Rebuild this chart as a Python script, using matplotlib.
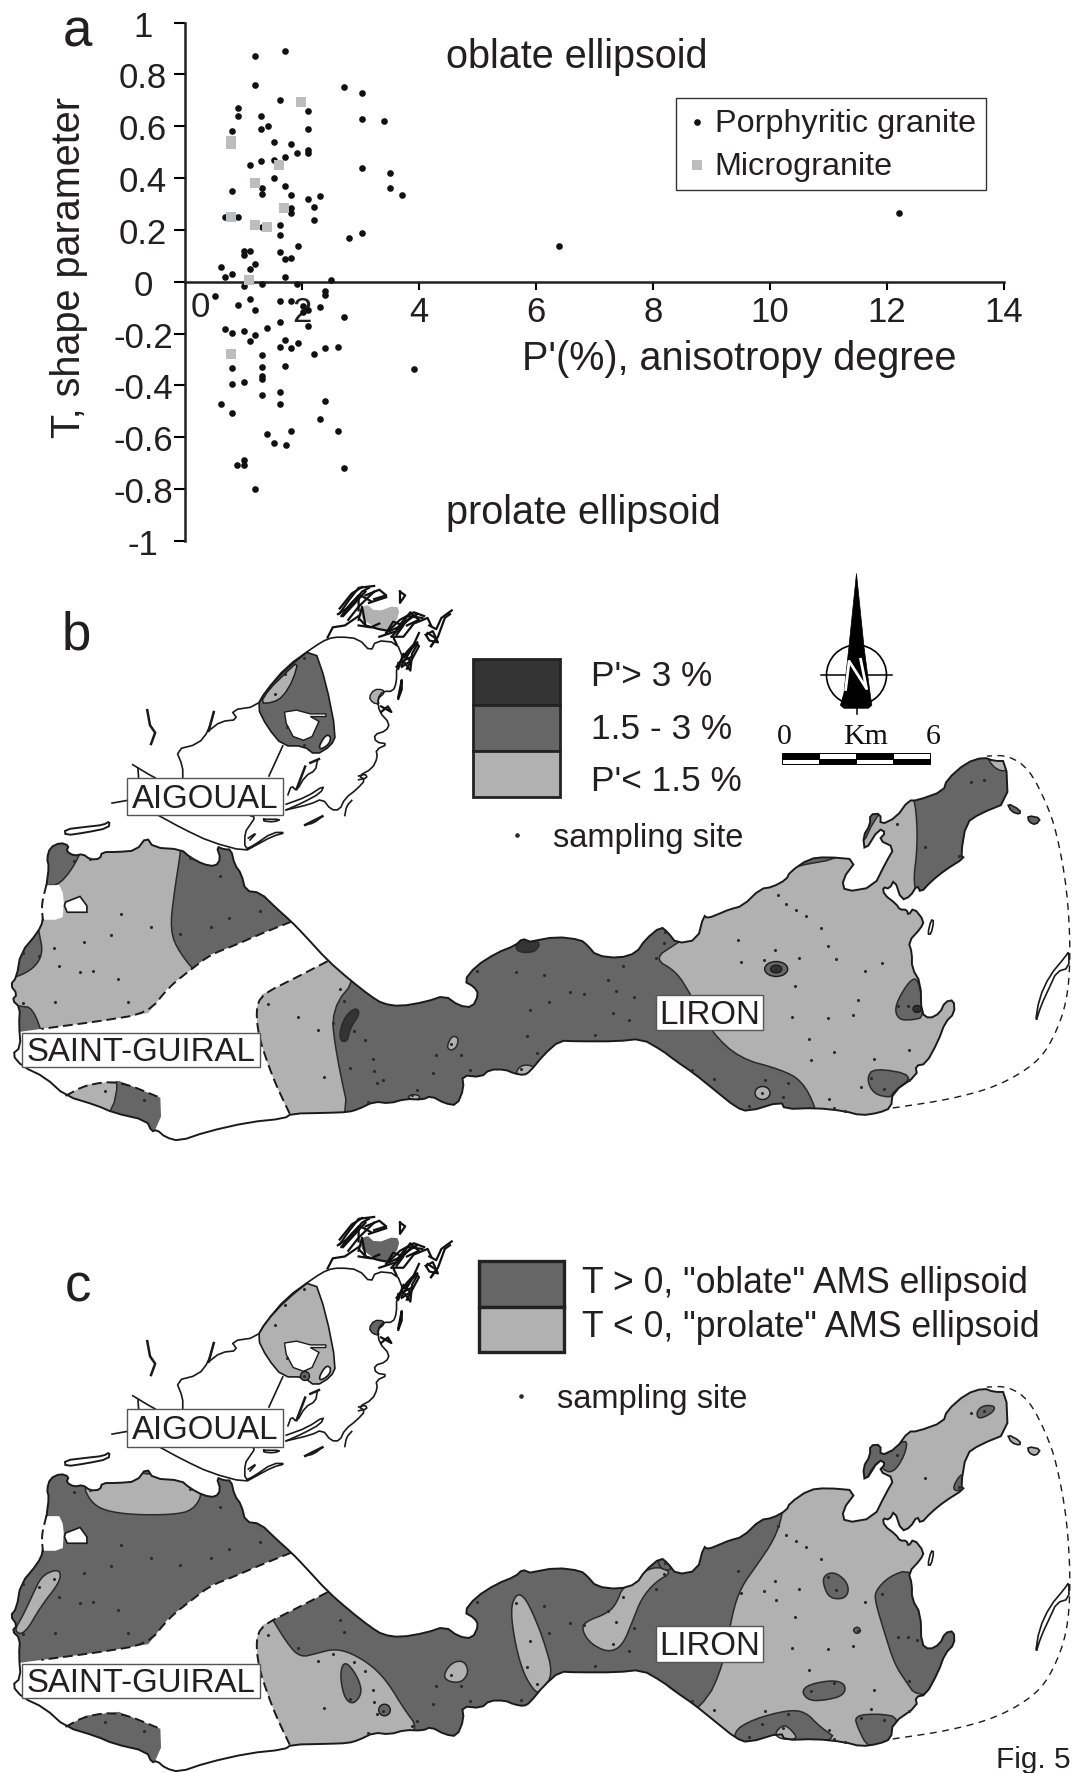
import matplotlib
matplotlib.use('Agg')
import matplotlib.pyplot as plt
from matplotlib.patches import Polygon, Rectangle, Ellipse, Circle
import numpy as np

plt.rcParams['font.family'] = ['Liberation Sans', 'DejaVu Sans']
INK = '#231f20'
DARK = '#343434'
MID = '#666666'
LIGHT = '#b1b1b1'

# panel a data
P_GRANITE = [1.20, 1.71, 1.20, 1.62, 2.71, 3.02, 0.90, 0.90, 2.11, 1.30, 1.42, 1.30, 2.11, 3.02, 3.40, 0.80,
             1.52, 1.82, 2.11, 2.11, 1.92, 1.71, 1.52, 1.30, 1.11, 3.02, 3.50, 1.52, 1.71, 1.32, 1.32, 0.80,
             1.82, 2.11, 2.30, 3.50, 3.71, 1.82, 1.82, 2.21, 0.69, 0.91, 2.21, 1.62, 1.32, 1.62, 3.02, 2.81,
             1.93, 1.01, 1.11, 1.01, 1.62, 1.82, 1.71, 1.20, 0.62, 1.11, 0.80, 0.69, 1.71, 2.50, 1.01, 1.32,
             1.92, 0.52, 2.40, 2.40, 1.11, 1.62, 1.82, 2.01, 0.90, 2.30, 1.20, 2.11, 2.01, 2.71, 1.62, 2.11,
             0.69, 0.80, 1.01, 1.41, 1.20, 1.71, 1.11, 1.93, 1.62, 1.82, 2.40, 2.61, 2.21, 1.31, 0.80, 1.31,
             1.71, 3.91, 1.31, 1.31, 1.01, 0.80, 1.62, 1.32, 0.62, 1.62, 2.40, 0.80, 2.30, 2.61, 1.82, 1.41,
             1.52, 1.72, 1.01, 0.89, 1.01, 2.71, 1.20, 6.40, 12.20]
T_GRANITE = [0.87, 0.89, 0.76, 0.70, 0.75, 0.73, 0.67, 0.64, 0.66, 0.64, 0.60, 0.59, 0.59, 0.63, 0.62, 0.58,
             0.54, 0.53, 0.51, 0.495, 0.495, 0.48, 0.47, 0.465, 0.45, 0.44, 0.42, 0.40, 0.37, 0.36, 0.34, 0.35,
             0.335, 0.32, 0.33, 0.36, 0.335, 0.285, 0.265, 0.29, 0.25, 0.25, 0.24, 0.22, 0.21, 0.18, 0.19, 0.17,
             0.14, 0.12, 0.117, 0.105, 0.114, 0.092, 0.087, 0.07, 0.058, 0.048, 0.029, 0.018, 0.018, 0.007, -0.018, -0.008,
             -0.01, -0.056, -0.037, -0.051, -0.067, -0.074, -0.074, -0.092, -0.091, -0.096, -0.107, -0.11, -0.117, -0.136, -0.155, -0.172,
             -0.183, -0.197, -0.19, -0.177, -0.205, -0.223, -0.23, -0.237, -0.252, -0.257, -0.257, -0.252, -0.279, -0.281, -0.331, -0.327,
             -0.326, -0.337, -0.363, -0.376, -0.385, -0.396, -0.425, -0.435, -0.47, -0.47, -0.458, -0.505, -0.528, -0.574, -0.575, -0.586,
             -0.62, -0.63, -0.686, -0.707, -0.707, -0.718, -0.798, 0.14, 0.265]
P_MICRO = [0.79, 0.79, 1.99, 1.60, 1.20, 1.70, 0.79, 1.20, 1.40, 1.09, 0.79]
T_MICRO = [0.543, 0.53, 0.695, 0.451, 0.382, 0.285, 0.249, 0.221, 0.21, 0.007, -0.278]
X_TICKS = [2, 4, 6, 8, 10, 12, 14]
Y_TICKS = [-1, -0.8, -0.6, -0.4, -0.2, 0, 0.2, 0.4, 0.6, 0.8, 1]
Y_LABELS = ['-1', '-0.8', '-0.6', '-0.4', '-0.2', '0', '0.2', '0.4', '0.6', '0.8', '1']

COAST_N_W = [(135,838),(142,790),(136,770),(145,740),(175,727),(200,735),(192,750),(215,762),(240,757),(262,772),
             (290,770),(296,752),(340,752),(395,748),(425,712),(445,740),(525,745),(550,765),(590,785),(625,790),
             (640,770),(628,737),(650,745),(670,745),(680,785),(700,810),(712,855),(755,860),(800,900),(845,937),
             (880,970),(950,1040),(1015,1092),(1075,1135),(1110,1155),(1160,1162),(1235,1150),(1290,1133),(1330,1160),
             (1370,1165),(1388,1130),(1375,1110),(1345,1095),(1380,1055),(1440,1020),(1495,1000),(1515,982),(1537,990)]
COAST_E = [(0,990),(75,977),(145,985),(165,1000),(190,1027),(255,1034),(305,1020),(330,985),(375,950),(395,965),
           (420,995),(480,985),(498,920),(510,928),(545,915),(570,905),(610,895),(660,850),(695,845),(735,825),
           (745,805),(800,770),(850,765),(938,772),(895,825),(903,858),(985,845),(1020,780),(1045,740),(1000,720),
           (1020,700),(1000,690),(960,750),(955,710),(975,680),(975,652),(1005,650),(1005,680),(1050,660),(1085,615),
           (1110,615),(1185,590),(1195,560),(1250,515),(1300,500),(1330,510),(1365,510),(1370,620),(1290,650),(1250,675),
           (1235,760),(1245,768),(1190,800),(1150,830),(1120,860),(1110,840),(1090,870),(1065,880),(1045,825),(1030,850),
           (1012,845),(1015,865),(1050,890),(1060,905),(1080,905),(1085,920),(1100,900),(1130,935),(1120,955),(1085,990),
           (1095,1020),(1095,1060),(1120,1100),(1122,1180),(1145,1195),(1175,1180),(1190,1150),(1215,1145),(1217,1180),
           (1190,1205),(1170,1255),(1135,1315),(1105,1320),(1110,1345),(1040,1390),(1035,1432),(1000,1445),(950,1452),
           (900,1440),(820,1432),(730,1435),(720,1415),(625,1442),(590,1430),(530,1385),(470,1340),(415,1305),(380,1280),
           (320,1248),(250,1255),(130,1255),(85,1253),(40,1290),(0,1335)]
COAST_S_W = [(1520,1345),(1490,1340),(1465,1330),(1420,1330),(1395,1350),(1340,1345),(1345,1380),(1325,1425),(1290,1420),
             (1250,1400),(1225,1410),(1175,1408),(1130,1420),(1085,1415),(1040,1435),(1010,1443),(950,1445),(845,1447),
             (825,1460),(720,1470),(600,1495),(520,1520),(480,1510),(455,1490),(440,1495),(425,1465),(330,1445),(280,1425),
             (190,1400),(130,1350),(65,1322),(35,1290),(60,1270),(55,1210),(58,1165),(35,1145),(50,1130),(30,1105),
             (48,1085),(60,1020),(110,965),(125,935)]
WHITE_STRIP = [(845,937),(760,968),(680,1000),(610,1025),(560,1060),(490,1110),(430,1180),(300,1200),(120,1222),(55,1230),
               (0,1260),(0,1400),(190,1400),(250,1370),(345,1360),(465,1405),(467,1455),(450,1490),(480,1530),(720,1500),
               (845,1460),(800,1370),(775,1310),(750,1240),(742,1170),(760,1130),(860,1085),(950,1042),(880,970)]
DASH_LINES = [[(845,937),(760,968),(680,1000),(610,1025),(560,1060),(490,1110),(430,1180),(300,1200),(120,1222)],
              [(950,1042),(860,1085),(760,1130),(742,1170),(750,1240),(775,1310),(800,1370),(840,1447)],
              [(190,1400),(250,1370),(345,1360),(465,1405)],
              [(135,838),(122,885),(122,912),(125,935)]]
HOLE_A = [(135,840),(172,840),(182,860),(185,885),(182,925),(160,932),(125,932),(122,885)]
HOLE_B = [(190,885),(232,870),(252,895),(252,912),(195,912),(187,895)]
FAR_DASH = [(1040,1432),(1200,1410),(1340,1375),(1450,1315),(1500,1250),(1540,1150),(1550,1020),(1540,850),(1510,700),
            (1480,620),(1430,530),(1370,495),(1310,497)]
SLIVER = [(1448,1210),(1460,1140),(1490,1080),(1535,1030),(1545,1015),(1545,1060),(1510,1070),(1490,1110),(1465,1160)]
ISLET_A = [(1368,622),(1405,640),(1405,652),(1380,645)]
ISLET_B = [(1427,655),(1465,662),(1450,680),(1430,672)]
ISLET_C = [(1140,970),(1150,932),(1158,935),(1150,970)]

# northern massif lines
AIG_LINES = [[(325,622),(368,615)], [(385,520),(430,545),(450,555)], [(400,530),(402,555)],
             [(530,555),(530,525),(510,480),(575,465),(605,430),(620,380)],
             [(605,430),(640,405),(690,400),(670,375),(745,365),(770,325),(830,260),(910,207),(950,185),(985,180),
              (1040,185),(1075,220),(1090,190),(1150,195),(1170,240),(1150,260),(1150,300),(1140,325),(1110,325),
              (1095,345),(1100,380),(1130,410),(1120,430),(1085,440),(1090,460),(1125,465),(1090,480),(1095,500),
              (1080,530),(1040,550),(1060,560),(1035,585),(1000,610),(985,640),(960,640),(935,610),(900,625),(830,640)],
             [(460,655),(530,690),(610,725),(710,750),(740,735),(790,710),(830,700),(790,700),(735,735),(710,745),
              (710,700),(725,680),(740,660),(725,655)],
             [(820,470),(780,550)], [(920,510),(915,535),(885,550),(860,590),(845,575),(835,600)],
             [(885,680),(910,675),(935,657)], [(1000,655),(1005,630),(1020,615)],
             [(830,625),(890,605),(940,575),(930,595),(880,620),(830,640)],
             [(765,665),(815,665),(795,672),(765,670),(765,665)],
             [(720,715),(745,700),(725,720)],
             [(1040,550),(1060,545),(1065,555),(1040,560)]]
AIG_THICK = [[(427,375),(435,415),(450,435),(438,465)], [(605,430),(620,380)], [(860,585),(885,525)], [(885,680),(935,657)],
             [(900,515),(925,505)]]
AIG_ISLE = [(188,692),(250,685),(300,680),(318,670),(315,688),(250,700),(190,708)]
SCRIBBLES = [[(985,118),(1010,85),(1040,50),(1085,45)], [(980,120),(1015,100),(1050,60),(1070,50)], [(995,125),(1030,90),(1060,60)],
             [(1000,110),(1040,70),(1040,110)], [(985,105),(1020,65),(1050,48)], [(1045,135),(1060,150),(1100,160),(1130,165)],
             [(1040,150),(1075,155),(1100,145)], [(1060,70),(1100,55),(1120,70),(1085,80)], [(1070,90),(1120,75)],
             [(1160,60),(1175,70),(1160,90),(1160,60)], [(1120,170),(1160,135),(1200,115),(1230,125)],
             [(1135,180),(1175,140),(1210,120)], [(1100,180),(1150,165),(1190,130)], [(1150,160),(1180,125),(1225,130)],
             [(1150,200),(1140,180),(1170,180),(1200,145),(1240,130),(1250,150)], [(950,182),(965,155),(1000,150),(1040,125)],
             [(1245,150),(1265,160),(1280,130),(1310,110)], [(1250,205),(1270,180),(1290,130),(1305,120)],
             [(1235,175),(1255,165),(1270,195),(1245,190),(1235,175)], [(1150,260),(1180,220),(1200,200),(1215,170)],
             [(1165,255),(1195,210),(1210,195)], [(1175,250),(1190,270),(1195,225),(1210,200)], [(1155,250),(1190,235)],
             [(1155,340),(1165,295),(1165,320),(1155,345)], [(1105,365),(1135,380),(1125,365),(1105,380)],
             [(990,125),(1020,90),(1045,70),(1075,85)], [(1010,135),(1040,100),(1085,60)], [(1040,135),(1050,100),(1060,150)],
             [(1120,170),(1140,140),(1170,150),(1150,175)], [(1160,150),(1190,115),(1215,135),(1180,150)],
             [(1130,165),(1165,150),(1195,125)], [(1240,170),(1265,185),(1250,205)],
             [(1175,235),(1205,195),(1215,205),(1180,265)], [(1155,265),(1170,225),(1190,245),(1165,260)]]
AIG_ZONE = [(745,365),(770,325),(830,265),(910,207),(945,300),(975,440),(960,470),(915,495),(880,470),(820,470),(775,420)]
AIG_HOLE = [(825,380),(860,375),(900,385),(945,385),(945,392),(900,392),(925,405),(905,445),(880,455),(850,445),(830,410)]
AIG_LENS = [(925,470),(945,440),(960,445),(955,465),(930,480)]
AIG_LIGHT_B = [(755,357),(780,320),(830,275),(865,245),(850,295),(820,340),(790,355)]
TOP_BLOB = [(1040,125),(1060,90),(1090,115),(1150,95),(1160,120),(1130,165),(1085,155)]
SIDE_BLOB = [(1070,340),(1085,320),(1110,320),(1115,330),(1095,345),(1100,360),(1080,355)]

# zones of panel b, run on past the coast and the barren strip where they are cut off
B_LIGHT_W = [[(130,840),(175,840),(235,760),(240,700),(525,700),(525,745),(505,860),(493,960),(520,1020),(590,1095),(520,1150),
              (450,1230),(130,1255),(95,1165),(58,1162),(0,1150),(0,1090),(48,1085),(100,1060),(125,1020),(113,965),(100,900)],
             [(955,1020),(1040,1080),(960,1170),(975,1290),(1020,1480),(830,1480),(760,1370),(710,1240),(700,1170),(720,1110)],
             [(170,1380),(250,1340),(350,1330),(320,1470),(200,1450)],
             [(1295,1270),(1310,1240),(1330,1245),(1325,1270),(1308,1280)],
             [(1492,1345),(1510,1317),(1550,1320),(1545,1345)],
             [(1180,1405),(1195,1395),(1220,1400),(1210,1412)]]
B_DARK_W = [[(985,1230),(1000,1190),(1030,1165),(1045,1180),(1015,1220),(1008,1255),(988,1255)],
            [(1495,1000),(1515,982),(1568,990),(1555,1015),(1525,1020),(1500,1015)]]
B_LIGHT_E = [[(355,1035),(420,995),(480,960),(498,900),(700,800),(940,760),(1000,640),(1085,600),(1105,615),(1112,730),(1097,845),
              (1125,870),(1300,950),(1300,1480),(820,1480),(820,1432),(780,1360),(720,1330),(600,1300),(520,1230),(460,1130),(420,1070)],
             [(1305,490),(1330,480),(1380,500),(1368,540),(1330,530)]]
B_MID_E = [[(1045,1160),(1090,1090),(1115,1090),(1130,1190),(1100,1198),(1055,1198)],
           [(965,1355),(985,1325),(1105,1345),(1040,1390),(1035,1405),(985,1395)]]

C_LIGHT_W = [[(240,780),(262,825),(300,850),(380,862),(500,862),(560,850),(590,800),(550,760),(300,740)],
             [(40,1180),(70,1190),(120,1110),(170,1050),(177,1020),(160,1012),(120,1030),(95,1080),(65,1140)],
             [(770,1115),(830,1210),(870,1252),(920,1240),(970,1228),(1020,1240),(1080,1275),(1125,1320),(1170,1390),(1215,1447),
              (1150,1500),(1000,1520),(840,1520),(700,1400),(700,1130)],
             [(1285,1300),(1310,1265),(1345,1260),(1360,1290),(1340,1320),(1300,1318)],
             [(1480,1120),(1497,1078),(1520,1085),(1545,1130),(1575,1200),(1605,1298),(1570,1340),(1555,1350),(1520,1300),(1495,1220)]]
C_MID_W = [[(987,1310),(992,1270),(1010,1268),(1040,1310),(1050,1350),(1025,1380),(1000,1365)]]
C_LIGHT_E = [[(265,1060),(350,1000),(410,1018),(360,1045),(320,1090),(295,1150),(265,1220),(225,1238),(175,1215),(150,1180),
              (155,1155),(225,1130),(250,1100)],
             [(725,860),(700,930),(650,1000),(605,1060),(580,1130),(555,1270),(500,1385),(300,1520),(1300,1520),(1300,1000),
              (1450,800),(1450,480),(1080,480),(960,600),(900,760),(730,780)]]
C_MID_E = [[(365,985),(378,975),(400,990),(405,1015),(375,1010)],
           [(940,640),(1012,640),(1012,700),(1083,650),(1075,700),(1040,750),(1005,735),(1015,715),(990,720),(955,780),(945,710)],
           [(1205,800),(1240,740),(1260,790)],
           [(990,1070),(1030,1030),(1090,1010),(1200,1100),(1300,1200),(1200,1350),(1105,1355),(1080,1320),(1045,1270),(1015,1180),(990,1100)],
           [(930,1410),(1000,1405),(1060,1415),(1045,1500),(970,1500),(940,1445)],
           [(580,1455),(640,1420),(740,1395),(790,1400),(830,1440),(890,1480),(600,1510)],
           [(840,1030),(870,1017),(905,1040),(915,1070),(900,1092),(860,1090),(843,1060)],
           [(925,1175),(940,1167),(950,1180),(935,1188)],
           [(778,1345),(800,1325),(870,1313),(905,1325),(900,1355),(850,1368),(800,1370)],
           [(1280,580),(1300,563),(1335,565),(1325,585),(1285,602)]]
C_LIGHT_BIT = [(700,1460),(725,1435),(745,1445),(770,1475),(720,1475)]

# sampling sites
SITES_W = [(215,776),(260,770),(350,917),(437,951),(323,972),(245,991),(158,1008),(68,1021),(112,1029),(170,1055),(233,1072),
           (270,1068),(342,1090),(160,1151),(370,1150),(66,1154),(550,768),(637,816),(755,908),(665,928),(611,950),(523,970),
           (883,237),(827,280),(797,333),(831,420),(883,468),(985,1115),(997,1147),(778,1156),(865,1191),(921,1224),(966,1207),
           (1027,1228),(1058,1251),(1082,1303),(1014,1326),(1086,1334),(1110,1357),(1093,1367),(939,1350),(1265,1292),(1338,1292),
           (1255,1340),(1362,1330),(1382,1068),(1497,1072),(1527,1240),(305,1388),(417,1411),(1067,1416),(1210,1385),(1196,1398),
           (1308,1262),(1512,1328)]
SITES_E = [(710,867),(733,889),(763,905),(790,923),(833,955),(597,986),(853,1003),(702,1013),(671,1038),(771,1033),(605,1044),
           (878,1037),(1010,1047),(961,1068),(761,1108),(939,1146),(751,1190),(855,1193),(927,1184),(801,1248),(873,1283),(1086,1277),
           (807,1304),(985,1303),(1056,1162),(1084,1162),(979,1352),(1015,1381),(1088,1358),(950,1377),(858,1407),(873,1432),(902,1440),
           (740,1366),(673,1358),(666,1392),(725,1403),(627,1427),(527,1356),(465,1332),(185,1237),(285,1199),(239,1180),(297,1138),
           (55,1150),(0,1173),(116,1124),(156,1130),(247,1122),(224,1091),(267,1056),(40,1079),(361,1033),(383,993),(387,965),(20,1287),
           (1053,678),(1132,739),(1230,762),(1263,567),(1303,560),(706,1063),(1110,1168)]

DY = 631


def lb(p):
    p = np.array(p, float)
    return np.c_[p[:, 0] / 2.9, p[:, 1] / 2.657 + 570]


def rb(p):
    p = np.array(p, float)
    return np.c_[p[:, 0] / 2.867 + 530, p[:, 1] / 2.657 + 570]


def lc(p):
    p = np.array(p, float)
    return np.c_[p[:, 0] / 2.9, p[:, 1] / 2.73 + 1200]


def rc(p):
    p = np.array(p, float)
    return np.c_[p[:, 0] / 2.867 + 530, p[:, 1] / 2.73 + 1200]


def round_off(pts, n=2, closed=True):
    # corner cutting, the map was drawn with curves
    pts = np.asarray(pts)
    for _ in range(n):
        nxt = np.roll(pts, -1, axis=0) if closed else pts[1:]
        cur = pts if closed else pts[:-1]
        q = 0.75 * cur + 0.25 * nxt
        r = 0.25 * cur + 0.75 * nxt
        mid = np.empty((2 * len(cur), 2))
        mid[0::2] = q
        mid[1::2] = r
        if not closed:
            mid = np.vstack([pts[0], mid, pts[-1]])
        pts = mid
    return pts


fig = plt.figure(figsize=(10.77, 17.74), dpi=100)
bg = fig.add_axes([0, 0, 1, 1])
bg.set_xlim(0, 1077)
bg.set_ylim(1774, 0)
bg.axis('off')

OUTLINE = round_off(np.vstack([lb(COAST_N_W), rb(COAST_E), lb(COAST_S_W)]), 1)


def shade(pts, color, clip, z=3):
    pg = Polygon(round_off(pts), closed=True, fc=color, ec='#2a2a2a', lw=1.1, zorder=z)
    bg.add_patch(pg)
    pg.set_clip_path(clip)


def isle(pts, color, lw=1.2, z=5):
    bg.add_patch(Polygon(round_off(pts, 1), closed=True, fc=color, ec='#1a1a1a', lw=lw, zorder=z))


def draw_map(dy, light_zones, mid_zones, dark_zones, aig_color, blob_color, isle_color):
    shift = np.array([0, dy])
    base = Polygon(OUTLINE + shift, closed=True, fc=MID, ec='none', zorder=2)
    bg.add_patch(base)
    for pts in light_zones:
        shade(pts, LIGHT, base)
    for pts in mid_zones:
        shade(pts, MID, base, 4)
    for pts in dark_zones:
        shade(pts, DARK, base, 4)
    # barren strip in the middle of the massif
    strip = Polygon(lb(WHITE_STRIP) + shift, closed=True, fc='white', ec='none', zorder=5)
    bg.add_patch(strip)
    strip.set_clip_path(base)
    bg.add_patch(Polygon(OUTLINE + shift, closed=True, fc='none', ec='#1a1a1a', lw=1.4, zorder=6))
    bg.add_patch(Polygon(lb(HOLE_A) + shift, closed=True, fc='white', ec='none', zorder=6))
    bg.add_patch(Polygon(lb(HOLE_B) + shift, closed=True, fc='white', ec='#1a1a1a', lw=1.2, zorder=6))
    for line in DASH_LINES:
        pts = round_off(lb(line) + shift, 2, closed=False)
        bg.plot(pts[:, 0], pts[:, 1], color='#1a1a1a', lw=1.4, ls=(0, (5, 2.5)), zorder=7)
    pts = round_off(rb(FAR_DASH) + shift, 2, closed=False)
    bg.plot(pts[:, 0], pts[:, 1], color='#1a1a1a', lw=1, ls=(0, (5, 4)), zorder=3)
    isle(rb(SLIVER) + shift, 'white')
    isle(rb(ISLET_A) + shift, isle_color)
    isle(rb(ISLET_B) + shift, isle_color)
    isle(rb(ISLET_C) + shift, 'white')

    # northern massif
    bg.add_patch(Polygon(round_off(lb(AIG_ZONE) + shift, 1), closed=True, fc=aig_color, ec='#1a1a1a', lw=1.2, zorder=3))
    if aig_color == MID:
        bg.add_patch(Polygon(round_off(lb(AIG_LIGHT_B) + shift, 1), closed=True, fc=LIGHT, ec='#1a1a1a', lw=1, zorder=3))
    bg.add_patch(Polygon(lb(AIG_HOLE) + shift, closed=True, fc='white', ec='#1a1a1a', lw=1, zorder=4))
    bg.add_patch(Polygon(round_off(lb(AIG_LENS) + shift), closed=True, fc='white', ec='#1a1a1a', lw=1.2, zorder=4))
    bg.add_patch(Polygon(round_off(lb(TOP_BLOB) + shift, 1), closed=True, fc=blob_color, ec='none', zorder=3))
    bg.add_patch(Polygon(round_off(lb(SIDE_BLOB) + shift, 1), closed=True, fc=blob_color, ec='#1a1a1a', lw=1, zorder=3))
    isle(lb(AIG_ISLE) + shift, 'white', 1.4)
    for line in AIG_LINES:
        pts = round_off(lb(line) + shift, 1, closed=False)
        bg.plot(pts[:, 0], pts[:, 1], color='#1a1a1a', lw=1.2, zorder=4)
    for line in AIG_THICK:
        pts = lb(line) + shift
        bg.plot(pts[:, 0], pts[:, 1], color='#1a1a1a', lw=1.8, zorder=4)
    for line in SCRIBBLES:
        pts = lb(line) + shift
        bg.plot(pts[:, 0], pts[:, 1], color='#111111', lw=1.6, zorder=4)

    # sampling sites
    sites = np.vstack([lb(SITES_W), rb(SITES_E)]) + shift
    bg.scatter(sites[:, 0], sites[:, 1], s=5, color='#2a2a2a', linewidths=0, zorder=8)


def name_box(x0, y0, x1, y1, name):
    bg.add_patch(Rectangle((x0, y0), x1 - x0, y1 - y0, fc='white', ec='#555555', lw=1, zorder=9))
    bg.text((x0 + x1) / 2, (y0 + y1) / 2 + 2, name, fontsize=23.8, color=INK, ha='center', va='center', zorder=10)


draw_map(0,
         [lb(p) for p in B_LIGHT_W] + [rb(p) for p in B_LIGHT_E],
         [rb(p) for p in B_MID_E],
         [lb(p) for p in B_DARK_W],
         MID, LIGHT, MID)
draw_map(DY,
         [lc(p) for p in C_LIGHT_W] + [rc(p) for p in C_LIGHT_E],
         [lc(p) for p in C_MID_W] + [rc(p) for p in C_MID_E],
         [],
         LIGHT, MID, LIGHT)
shade(rc(C_LIGHT_BIT), LIGHT, bg.patch, 5)

# little patches with an inner ring, panel b and c
for cx, cy, w, h, col in [(776.2, 970, 23, 15, MID), (776.2, 970, 11, 7.5, DARK), (762.5, 1094, 15, 13, LIGHT),
                          (917, 1010, 8, 7, DARK)]:
    bg.add_patch(Ellipse((cx, cy), w, h, fc=col, ec='#1a1a1a', lw=1, zorder=4))
bg.add_patch(Circle((384.5, 1711), 5.8, fc=MID, ec='#1a1a1a', lw=1, zorder=4))
bg.add_patch(Circle((305, 1377), 4.5, fc=MID, ec='#1a1a1a', lw=1, zorder=5))

name_box(126.5, 779, 283, 815.5, 'AIGOUAL')
name_box(21.5, 1034, 259.5, 1067.5, 'SAINT-GUIRAL')
name_box(655.5, 996, 763, 1031, 'LIRON')
name_box(126.5, 1410, 283, 1447.5, 'AIGOUAL')
name_box(21.5, 1665, 259.5, 1699, 'SAINT-GUIRAL')
name_box(655.5, 1627, 763, 1663, 'LIRON')

# legend of panel b
for y0, y1, col in [(659.6, 706, DARK), (706, 752, MID), (752, 798, LIGHT)]:
    bg.add_patch(Rectangle((473, y0), 87, y1 - y0, fc=col, ec='#222222', lw=2))
for y, s in [(677, "P'> 3 %"), (730, '1.5 - 3 %'), (782, "P'< 1.5 %")]:
    bg.text(591, y, s, fontsize=25.4, color=INK, va='center')
bg.scatter([516.5], [836], s=11, color='#2a2a2a', linewidths=0)
bg.text(553, 838.5, 'sampling site', fontsize=23.5, color=INK, va='center')

# legend of panel c
for y0, y1, col in [(1262, 1308, MID), (1308, 1353, LIGHT)]:
    bg.add_patch(Rectangle((478.6, y0), 85.4, y1 - y0, fc=col, ec='#222222', lw=2.4))
bg.text(581.6, 1284, 'T > 0, "oblate" AMS ellipsoid', fontsize=25.6, color=INK, va='center')
bg.text(581.6, 1328, 'T < 0, "prolate" AMS ellipsoid', fontsize=25.6, color=INK, va='center')
bg.scatter([521], [1397], s=11, color='#2a2a2a', linewidths=0)
bg.text(557, 1400, 'sampling site', fontsize=23.5, color=INK, va='center')

# north arrow
bg.add_patch(Circle((856.5, 676), 30, fc='none', ec='black', lw=1.2))
bg.plot([820.5, 892], [676, 676], color='black', lw=1.1)
bg.plot([856.5, 856.5], [700, 715], color='black', lw=1.1)
arrow = rb([(936,12),(958,210),(975,330),(980,362),(970,370),(900,370),(890,362),(900,330),(914,210)])
bg.add_patch(Polygon(arrow, closed=True, fc='black', ec='black', lw=0.5, zorder=3))
n_mark = rb([(905,320),(915,245),(965,318),(948,240)])
bg.plot(n_mark[:, 0], n_mark[:, 1], color='white', lw=2, zorder=4)

# scale bar
for i, (top, bottom) in enumerate([('black', 'white'), ('white', 'black'), ('black', 'white'), ('white', 'black')]):
    x0 = 782 + i * 37
    bg.add_patch(Rectangle((x0, 754), 37, 5.5, fc=top, ec='black', lw=0.7))
    bg.add_patch(Rectangle((x0, 759.5), 37, 5.5, fc=bottom, ec='black', lw=0.7))
for x, s in [(784.5, '0'), (866, 'Km'), (933, '6')]:
    bg.text(x, 737, s, family='Liberation Serif', fontsize=21.5, color='#111111', ha='center', va='center')

bg.text(63, 46.5, 'a', fontsize=38, color=INK, va='baseline')
bg.text(62, 650, 'b', fontsize=38, color=INK, va='baseline')
bg.text(65, 1302, 'c', fontsize=38, color=INK, va='baseline')
bg.text(996, 1768, 'Fig. 5', fontsize=21.4, color=INK, va='baseline')

# panel a
ax = fig.add_axes([185 / 1077, 1 - 542 / 1774, 819 / 1077, 518.4 / 1774])
ax.patch.set_alpha(0)
ax.set_xlim(0, 14)
ax.set_ylim(-1, 1)
ax.scatter(P_GRANITE, T_GRANITE, s=23, color='#111111', linewidths=0, zorder=3, clip_on=False, label='Porphyritic granite')
ax.scatter(P_MICRO, T_MICRO, s=55, marker='s', color='#bcbdc0', linewidths=0, zorder=4, label='Microgranite')
for s in ['top', 'right']:
    ax.spines[s].set_visible(False)
ax.spines['bottom'].set_position(('data', 0))
ax.spines['left'].set_linewidth(1.8)
ax.spines['bottom'].set_linewidth(1.8)
ax.spines['left'].set_color('#231f20')
ax.spines['bottom'].set_color('#231f20')
ax.set_xticks(X_TICKS)
ax.set_yticks(Y_TICKS)
ax.set_yticklabels(Y_LABELS)
ax.tick_params(axis='x', length=6, width=1.5, labelsize=25, pad=3.5, labelcolor=INK)
ax.tick_params(axis='y', length=7.7, width=1.5, labelsize=25, pad=22.5, labelcolor=INK)
for lab in ax.get_yticklabels():
    lab.set_ha('center')
ax.text(0.27, -0.095, '0', fontsize=25, color=INK, ha='center', va='center')
ax.legend(loc='upper left', bbox_to_anchor=((676 - 185) / 819, (542 - 99) / 518.4), fontsize=23.3, frameon=True, fancybox=False,
          edgecolor='#333333', framealpha=1, borderaxespad=0, borderpad=0.3, labelspacing=0.4, handletextpad=0.2,
          handlelength=0.7, scatterpoints=1, labelcolor=INK, markerscale=1)

bg.text(446, 56.5, 'oblate ellipsoid', fontsize=28.5, color=INK, va='center')
bg.text(446, 513.5, 'prolate ellipsoid', fontsize=28.5, color=INK, va='center')
bg.text(522, 359.5, "P'(%), anisotropy degree", fontsize=28.5, color=INK, va='center')
bg.text(69.5, 267, 'T, shape parameter', fontsize=28.5, color=INK, rotation=90, va='center', ha='center')

fig.savefig('out.png', dpi=100)
